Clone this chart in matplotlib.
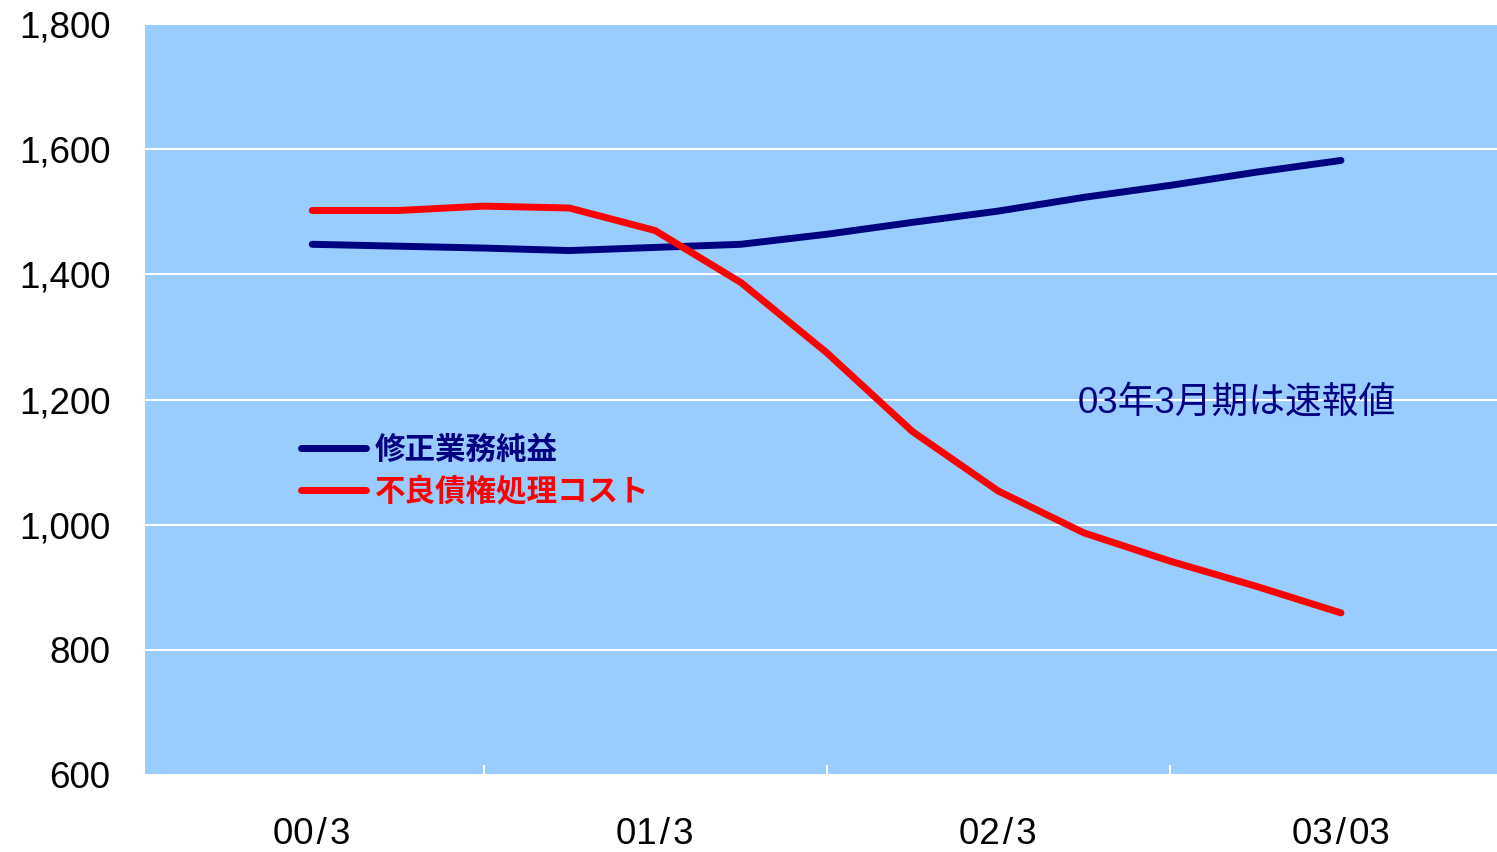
import numpy as np
import matplotlib
matplotlib.use('Agg')
import matplotlib.pyplot as plt
from matplotlib.ticker import FuncFormatter

plt.rcParams['font.family'] = ['Liberation Sans', 'Noto Sans CJK JP', 'DejaVu Sans']

################ Dati (valori trimestrali) ################
period_labels = ['00\u200a/\u200a3', '01\u200a/\u200a3', '02\u200a/\u200a3', '03\u200a/\u200a03']
quarters = np.arange(13)          # 00/3 ... 03/03, un punto ogni trimestre

profit = [1448, 1445, 1442, 1438, 1443, 1448, 1464, 1483, 1501,
          1523, 1542, 1563, 1582]                      # 修正業務純益
npl_cost = [1502, 1502, 1509, 1506, 1470, 1387, 1275, 1149, 1054,
            987, 942, 902, 859]                        # 不良債権処理コスト

name_profit = '修正業務純益'
name_cost = '不良債権処理コスト'
note = '03年3月期は速報値'

navy = '#000080'
red = '#FF0000'
bg = '#99CCFF'

################ Grafico ################
fig = plt.figure(figsize=(14.97, 8.52), dpi=100)
ax = fig.add_axes([145/1497, 77/852, 1 - 145/1497, (775 - 24)/852])
ax.set_facecolor(bg)
for s in ax.spines.values():
    s.set_visible(False)

ax.plot(quarters, profit, color=navy, lw=5, solid_capstyle='round',
        solid_joinstyle='round', label=name_profit, zorder=3)
ax.plot(quarters, npl_cost, color=red, lw=5, solid_capstyle='round',
        solid_joinstyle='round', label=name_cost, zorder=3)

ax.set_xlim(-1.95, 13.82)
ax.set_ylim(600, 1800)

# asse Y
ax.set_yticks(np.arange(600, 1801, 200))
ax.yaxis.set_major_formatter(FuncFormatter(lambda v, p: f'{v:,.0f}'))
ax.tick_params(axis='y', length=0, pad=25, labelsize=26.5, labelcolor='black')
ax.grid(axis='y', color='white', lw=1.5, zorder=1)

# asse X: tacche tra le categorie, etichette al centro
ax.set_xticks([2, 6, 10])
ax.set_xticklabels([])
ax.tick_params(axis='x', which='major', direction='in', length=7,
               width=1.5, color='white')
ax.set_xticks([0, 4, 8, 12], minor=True)
ax.set_xticklabels(period_labels, minor=True)
ax.tick_params(axis='x', which='minor', length=0, pad=30, labelsize=26.5)

ax.text(0.690, 0.495, note, transform=ax.transAxes, color=navy,
        fontsize=26.5, family=['Liberation Sans', 'Noto Sans CJK JP'],
        va='center', ha='left')

leg = ax.legend(loc='upper left', bbox_to_anchor=(0.0947, 0.491),
                frameon=False, handlelength=2.13, handletextpad=0.3,
                labelspacing=0.31, labelcolor='linecolor',
                prop={'family': 'Noto Sans CJK JP', 'weight': 'bold', 'size': 22})

plt.savefig('out.png', dpi=100)
